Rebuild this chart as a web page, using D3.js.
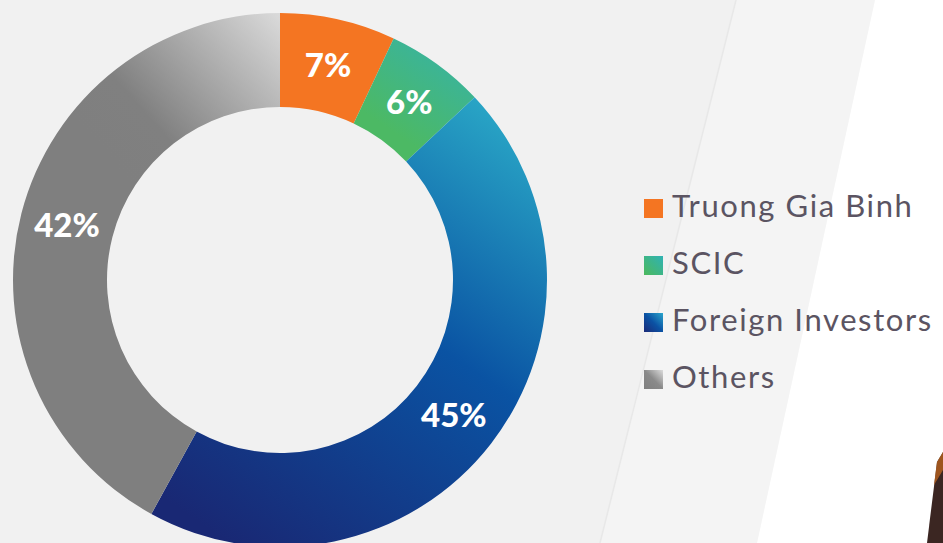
<!DOCTYPE html>
<html>
<head>
<meta charset="utf-8">
<script src="https://cdn.jsdelivr.net/npm/d3@7/dist/d3.min.js"></script>
<style>
  html, body { margin: 0; padding: 0; background: #f2f2f2; }
  svg { display: block; }
</style>
</head>
<body>
<svg id="chart" width="943" height="543"></svg>
<script>
const categories = ["Truong Gia Binh", "SCIC", "Foreign Investors", "Others"];
const values = [7, 6, 45, 42];
const valueLabels = ["7%", "6%", "45%", "42%"];

const W = 943, H = 543;
const cx = 280, cy = 280, outerR = 267, innerR = 173;

const svg = d3.select("#chart");
const defs = svg.append("defs");

// Background
svg.append("rect").attr("width", W).attr("height", H).attr("fill", "#f1f1f1");
svg.append("polygon")
  .attr("points", "736,0 875,0 757,543 600,543")
  .attr("fill", "#f4f4f4");
svg.append("polygon")
  .attr("points", "875,0 943,0 943,543 757,543")
  .attr("fill", "#ffffff");
svg.append("line")
  .attr("x1", 736).attr("y1", 0).attr("x2", 600).attr("y2", 543)
  .attr("stroke", "#e8e8e8").attr("stroke-width", 1.5);
// photo edge at bottom-right
svg.append("polygon")
  .attr("points", "943,452 937,462 927,543 943,543")
  .attr("fill", "#3b2622");
svg.append("polygon")
  .attr("points", "943,452 937,462 934,485 943,470")
  .attr("fill", "#b8611e").attr("opacity", 0.8);

function lin(id, x1, y1, x2, y2, stops, units) {
  const g = defs.append("linearGradient").attr("id", id)
    .attr("x1", x1).attr("y1", y1).attr("x2", x2).attr("y2", y2);
  if (units) g.attr("gradientUnits", units).attr("gradientTransform", `translate(${-cx},${-cy})`);
  stops.forEach(s => g.append("stop").attr("offset", s[0]).attr("stop-color", s[1]));
}
lin("gOrange", 0, 0, 1, 1, [[0, "#f47522"], [1, "#f47522"]]);
lin("gScic", 420, 150, 480, 60, [[0, "#4cb964"], [1, "#37b3a5"]], "userSpaceOnUse");
lin("gForeign", 500, 110, 210, 530, [[0, "#29a6c6"], [0.45, "#0a53a3"], [1, "#192874"]], "userSpaceOnUse");
lin("gOthers", 290, 20, 120, 170, [[0, "#dcdcdc"], [0.75, "#808080"], [1, "#7f7f7f"]], "userSpaceOnUse");
lin("lScic", 0, 1, 1, 0, [[0, "#4cb95c"], [1, "#2fb2b4"]]);
lin("lForeign", 0, 1, 1, 0, [[0, "#1a2a78"], [0.5, "#0b52a4"], [1, "#2aa6cc"]]);
lin("lOthers", 0, 1, 1, 0, [[0, "#7f7f7f"], [0.5, "#8a8a8a"], [1, "#dcdcdc"]]);

const fills = ["url(#gOrange)", "url(#gScic)", "url(#gForeign)", "url(#gOthers)"];
const legendFills = ["#f47522", "url(#lScic)", "url(#lForeign)", "url(#lOthers)"];

const data = categories.map((c, i) => ({ name: c, value: values[i], label: valueLabels[i], fill: fills[i] }));

const pie = d3.pie().value(d => d.value).sort(null);
const arc = d3.arc().innerRadius(innerR).outerRadius(outerR);
const arcs = pie(data);

const gs = svg.append("g").attr("transform", `translate(${cx},${cy})`);
gs.selectAll("path").data(arcs).join("path")
  .attr("d", arc)
  .attr("fill", d => d.data.fill);

const labelArc = d3.arc().innerRadius((innerR + outerR) / 2).outerRadius((innerR + outerR) / 2);
gs.selectAll("text").data(arcs).join("text")
  .attr("transform", d => `translate(${labelArc.centroid(d)})`)
  .attr("text-anchor", "middle")
  .attr("dy", "0.36em")
  .attr("fill", "#ffffff")
  .attr("font-family", "Lato, 'Open Sans', sans-serif")
  .attr("font-weight", 900)
  .attr("font-size", 33)
  .text(d => d.data.label);

// Legend
const legend = svg.append("g").attr("transform", "translate(644,199)");
const item = legend.selectAll("g").data(data).join("g")
  .attr("transform", (d, i) => `translate(0,${i * 57})`);
item.append("rect").attr("width", 19).attr("height", 19)
  .attr("fill", (d, i) => legendFills[i]);
item.append("text")
  .attr("x", 28).attr("y", 18)
  .attr("fill", "#5b5462")
  .attr("font-family", "Lato, 'Open Sans', sans-serif")
  .attr("font-size", 31)
  .attr("letter-spacing", 1.6)
  .text(d => d.name);
</script>
</body>
</html>
